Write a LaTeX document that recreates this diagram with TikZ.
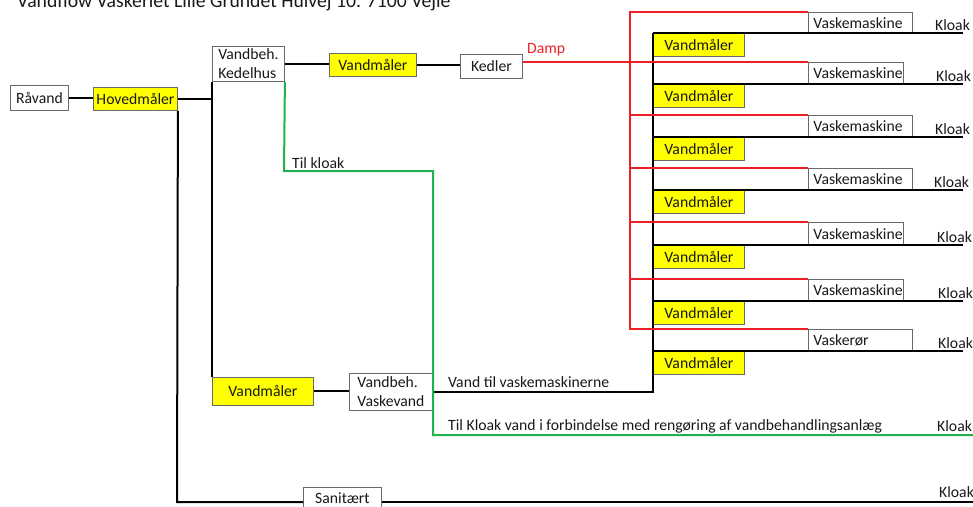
\documentclass[tikz,border=0pt]{standalone}
\usepackage{fontspec}
\setmainfont{Carlito}
\usepackage{tikz}
\usetikzlibrary{calc}
\definecolor{boxgray}{RGB}{105,105,105}
\definecolor{meteryellow}{RGB}{255,255,0}
\definecolor{damp}{RGB}{237,32,40}
\definecolor{kloakgreen}{RGB}{34,177,76}
\definecolor{txt}{RGB}{25,25,25}
\newcommand{\boxfont}{\fontsize{15.7}{19}\selectfont}
\newcommand{\headfont}{\fontsize{19.7}{23}\selectfont}
\tikzset{my box/.style={
  draw=boxgray,
  line width=0.9pt,
  fill=white,
  inner sep=0pt,
  anchor=north west,
  text=txt,
  font=\boxfont
  }
}
\tikzset{my meter/.style={
  my box,
  fill=meteryellow
  }
}
\tikzset{my label/.style={
  anchor=base west,
  inner sep=0pt,
  text=txt,
  font=\boxfont
  }
}
\tikzset{my pipe/.style={
  black,
  line width=2pt
  }
}
\tikzset{my steam/.style={
  damp,
  line width=2pt
  }
}
\tikzset{my drain/.style={
  kloakgreen,
  line width=2pt
  }
}

\begin{document}
\begin{tikzpicture}[x=1pt,y=-1pt]
    \useasboundingbox (0,0) rectangle (973,506);

    \node[my label,font=\headfont] (title) at (17,7) {Vandflow Vaskeriet Lille Grundet Hulvej 10. 7100 Vejle};

    \node[my box,minimum width=58,minimum height=25] (RV) at (10,85) {Råvand};
    \node[my meter,minimum width=84,minimum height=23] (HM) at (93,87) {Hovedmåler};
    \node[my box,minimum width=72,minimum height=35,align=left] (KH) at (212,46) {Vandbeh.\\Kedelhus};
    \node[my meter,minimum width=87,minimum height=23] (VMT) at (329,53) {Vandmåler};
    \node[my box,minimum width=62,minimum height=24] (KD) at (460,54) {Kedler};
    \node[my label,text=damp] (DP) at (527,53) {Damp};

    \node[my meter,minimum width=101,minimum height=28] (VM0) at (212,377) {Vandmåler};
    \node[my box,minimum width=83,minimum height=37,align=left] (VV) at (349,373) {Vandbeh.\\Vaskevand};
    \node[my box,minimum width=78,minimum height=22] (SN) at (303,487) {Sanitært};

    \node[my label] (TK) at (292,168) {Til kloak};
    \node[my label] (TV) at (448,387) {Vand til vaskemaskinerne};
    \node[my label] (TR) at (448,430) {Til Kloak vand i forbindelse med rengøring af vandbehandlingsanlæg};
    \node[my label] (KG) at (937,431) {Kloak};
    \node[my label] (KS) at (939,497) {Kloak};

    \foreach \r/\b/\w/\t/\k [count=\n] in {12/33/104/Vaskemaskine/935,62/84/95/Vaskemaskine/936,115/137/104/Vaskemaskine/935,168/190/104/Vaskemaskine/934,222/245/95/Vaskemaskine/937,279/301/95/Vaskemaskine/938,329/351/104/Vaskerør/938}
    {
        \node[my box,text width=\w-10,inner xsep=5pt,align=left,minimum height=\b-\r] (W\n) at (808,\r) {\mbox{\t}};
        \node[my meter,minimum width=91,minimum height=23] (V\n) at (653,\b) {Vandmåler};
        \node[my label] (K\n) at (\k,\b-3) {Kloak};
    }

    \coordinate (RT) at (630,12);
    \coordinate (RB) at (630,329);
    \coordinate (KE) at (963,0);
    \coordinate (TJ) at (653,392);
    \coordinate (SB) at (177,502);
    \coordinate (SE) at (973,502);
    \coordinate (G1) at (284,171);
    \coordinate (G2) at (433,171);
    \coordinate (G3) at (433,435);
    \coordinate (G4) at (973,435);

    % hovedledning
    \draw[my pipe] (RV.east) -- (RV.east -| HM.west);
    \draw[my pipe] (HM.east) -- (HM.east -| KH.west);
    \draw[my pipe] (KH.south west) -- (VM0.north west);
    \draw[my pipe] (KH.east) -- (KH.east -| VMT.west);
    \draw[my pipe] (VMT.east) -- (VMT.east -| KD.west);
    \draw[my pipe] (HM.south east) -- (SB) -- (SB -| SN.west);
    \draw[my pipe] (SE -| SN.east) -- (SE);
    \draw[my pipe] (VM0.east) -- (VM0.east -| VV.west);
    \draw[my pipe] (TJ -| VV.east) -- (TJ) -- (V1.north west);

    % damp
    \draw[my steam] (KD.east |- W2.north west) -- (W2.north west);
    \draw[my steam] (W1.north west) -- (RT) -- (RB) -- (W7.north west);
    \foreach \n in {2,...,6}
        \draw[my steam] (W\n.north west -| RT) -- (W\n.north west);

    \foreach \n in {1,...,7}
        \draw[my pipe] (V\n.north west) -- (V\n.north west -| KE);

    % kloak
    \draw[my drain] (KH.south east) -- (G1) -- (G2) -- (G3) -- (G4);

\end{tikzpicture}
\end{document}
